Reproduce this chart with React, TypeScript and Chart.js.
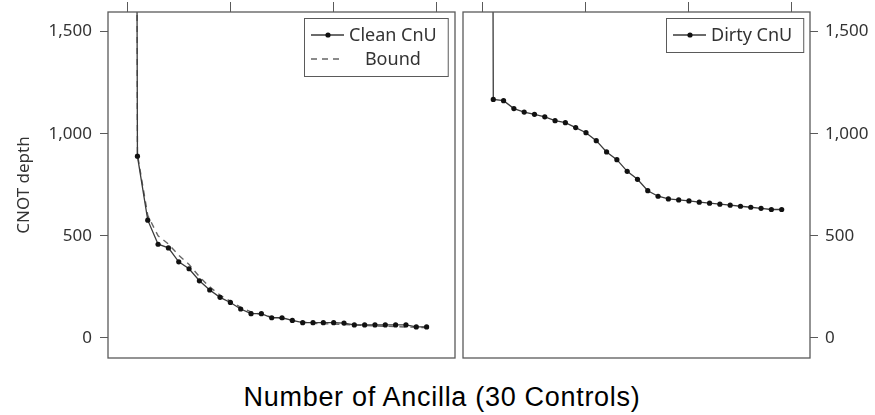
import React, { useEffect, useRef } from "react";
import { Chart, registerables } from "chart.js";

Chart.register(...registerables);

// ---- data ----
const ancilla = [0, 1, 2, 3, 4, 5, 6, 7, 8, 9, 10, 11, 12, 13, 14, 15, 16, 17, 18, 19, 20, 21, 22, 23, 24, 25, 26, 27, 28, 29];
const cleanCnU = [20000, 890, 577, 459, 441, 373, 339, 280, 235, 199, 174, 142, 119, 119, 99, 99, 86, 75, 75, 75, 75, 73, 64, 64, 64, 64, 64, 64, 54, 54];
const bound = [20000, 900, 600, 500, 460, 405, 360, 300, 250, 210, 180, 150, 128, 115, 103, 95, 85, 78, 72, 70, 68, 66, 63, 61, 59, 57, 56, 54, 52, 51];
const dirtyCnU = [20000, 1168, 1162, 1123, 1106, 1095, 1083, 1064, 1054, 1030, 1005, 966, 911, 873, 816, 777, 721, 694, 681, 676, 671, 665, 660, 655, 650, 645, 640, 635, 629, 629];
const xTicks = [0, 10, 20, 30];
const yTicks = [0, 500, 1000, 1500];

const TEXT_FONT = "'Noto Sans', 'DejaVu Sans', sans-serif";
const TEXT_COLOR = "#333";
const FRAME_COLOR = "#5a5a5a";

const toPoints = (ys: number[]) => ancilla.map((x, i) => ({ x, y: ys[i] }));

const framePlugin = {
  id: "frameAndLegend",
  afterDraw(chart: any) {
    const ctx = chart.ctx;
    const { left, right, top, bottom } = chart.chartArea;
    ctx.save();
    ctx.strokeStyle = FRAME_COLOR;
    ctx.lineWidth = 1.3;
    ctx.strokeRect(left, top, right - left, bottom - top);

    // boxed legend (top-right)
    const items = chart.data.datasets;
    ctx.font = `18px ${TEXT_FONT}`;
    const maxW = Math.max(...items.map((d: any) => ctx.measureText(d.label).width));
    const w = 45 + maxW + 11;
    const h = 34 + 24 * (items.length - 1);
    const x0 = Math.round(right - 7 - w);
    const y0 = Math.round(top + 6);
    ctx.fillStyle = "#fff";
    ctx.fillRect(x0, y0, w, h);
    ctx.strokeStyle = FRAME_COLOR;
    ctx.lineWidth = 1;
    ctx.strokeRect(x0 + 0.5, y0 + 0.5, w, h);
    items.forEach((d: any, i: number) => {
      const cy = y0 + 17 + 24 * i;
      ctx.beginPath();
      ctx.setLineDash(d.borderDash || []);
      ctx.strokeStyle = d.borderColor;
      ctx.lineWidth = d.borderWidth;
      ctx.moveTo(x0 + 7, cy);
      ctx.lineTo(x0 + 40, cy);
      ctx.stroke();
      ctx.setLineDash([]);
      if (d.pointRadius > 0) {
        ctx.beginPath();
        ctx.arc(x0 + 24, cy, d.pointRadius, 0, Math.PI * 2);
        ctx.fillStyle = d.pointBackgroundColor;
        ctx.fill();
      }
      ctx.fillStyle = TEXT_COLOR;
      ctx.textAlign = "center";
      ctx.textBaseline = "middle";
      ctx.fillText(d.label, x0 + 45 + maxW / 2, cy + 1);
    });
    ctx.restore();
  },
};

function makeOptions(side: "left" | "right", xMin: number, xMax: number): any {
  return {
    animation: false,
    responsive: false,
    maintainAspectRatio: false,
    events: [],
    layout: {
      padding: side === "left" ? { left: 0, right: 4, top: 0, bottom: 12 } : { left: 4, right: 0, top: 0, bottom: 12 },
    },
    plugins: { legend: { display: false }, tooltip: { enabled: false } },
    scales: {
      x: {
        type: "linear",
        position: "top",
        min: xMin,
        max: xMax,
        afterBuildTicks: (s: any) => {
          s.ticks = xTicks.map((v) => ({ value: v }));
        },
        ticks: { display: false },
        grid: { drawOnChartArea: false, drawTicks: true, tickLength: 10, color: FRAME_COLOR, lineWidth: 1 },
        border: { display: false },
        afterFit: (s: any) => {
          s.height = 12;
          s.paddingLeft = 0;
          s.paddingRight = 0;
          s.paddingTop = 0;
          s.paddingBottom = 0;
        },
      },
      y: {
        type: "linear",
        position: side,
        min: -98,
        max: 1596,
        afterBuildTicks: (s: any) => {
          s.ticks = yTicks.map((v) => ({ value: v }));
        },
        ticks: {
          font: { family: TEXT_FONT, size: 17 },
          color: TEXT_COLOR,
          padding: side === "left" ? 8 : 7,
          callback: (v: number) => v.toLocaleString("en-US"),
        },
        grid: { drawOnChartArea: false, drawTicks: true, tickLength: 8, color: FRAME_COLOR, lineWidth: 1 },
        border: { display: false },
        title:
          side === "left"
            ? { display: true, text: "CNOT depth", font: { family: TEXT_FONT, size: 17 }, color: TEXT_COLOR, padding: { top: 14, bottom: 0 } }
            : { display: false },
        afterFit: (s: any) => {
          s.width = side === "left" ? 108 : 65;
          s.paddingLeft = 0;
          s.paddingRight = 0;
          s.paddingTop = 0;
          s.paddingBottom = 0;
        },
      },
    },
  };
}

function Panel({ side, left, width, datasets, xMin, xMax }: any) {
  const ref = useRef<HTMLCanvasElement | null>(null);
  useEffect(() => {
    if (!ref.current) return;
    const chart = new Chart(ref.current, {
      type: "line",
      data: { datasets },
      options: makeOptions(side, xMin, xMax),
      plugins: [framePlugin],
    } as any);
    return () => chart.destroy();
  }, []);
  return (
    <canvas
      ref={ref}
      width={width}
      height={370}
      style={{ position: "absolute", left, top: 0, width, height: 370 }}
    />
  );
}

export default function App() {
  const leftSets = [
    {
      label: "Clean CnU",
      data: toPoints(cleanCnU),
      borderColor: "#3a3a3a",
      borderWidth: 1.3,
      pointRadius: 2.6,
      pointBackgroundColor: "#111",
      pointBorderWidth: 0,
      tension: 0,
    },
    {
      label: "Bound",
      data: toPoints(bound),
      borderColor: "#666",
      borderWidth: 1.4,
      borderDash: [6, 5],
      pointRadius: 0,
      tension: 0,
    },
  ];
  const rightSets = [
    {
      label: "Dirty CnU",
      data: toPoints(dirtyCnU),
      borderColor: "#3a3a3a",
      borderWidth: 1.3,
      pointRadius: 2.6,
      pointBackgroundColor: "#111",
      pointBorderWidth: 0,
      tension: 0,
    },
  ];
  return (
    <div style={{ position: "absolute", left: 0, top: 0, width: 875, height: 415, background: "#fff", overflow: "hidden" }}>
      <Panel side="left" left={0} width={459} datasets={leftSets} xMin={-1.85} xMax={31.75} />
      <Panel side="right" left={459} width={416} datasets={rightSets} xMin={-1.94} xMax={31.75} />
      <div
        style={{
          position: "absolute",
          left: 0,
          width: 884,
          top: 384,
          textAlign: "center",
          fontFamily: "'Liberation Sans', Arial, sans-serif",
          fontSize: 27,
          lineHeight: "27px",
          letterSpacing: 0.7,
          color: "#000",
          whiteSpace: "nowrap",
        }}
      >
        Number of Ancilla (30 Controls)
      </div>
    </div>
  );
}
